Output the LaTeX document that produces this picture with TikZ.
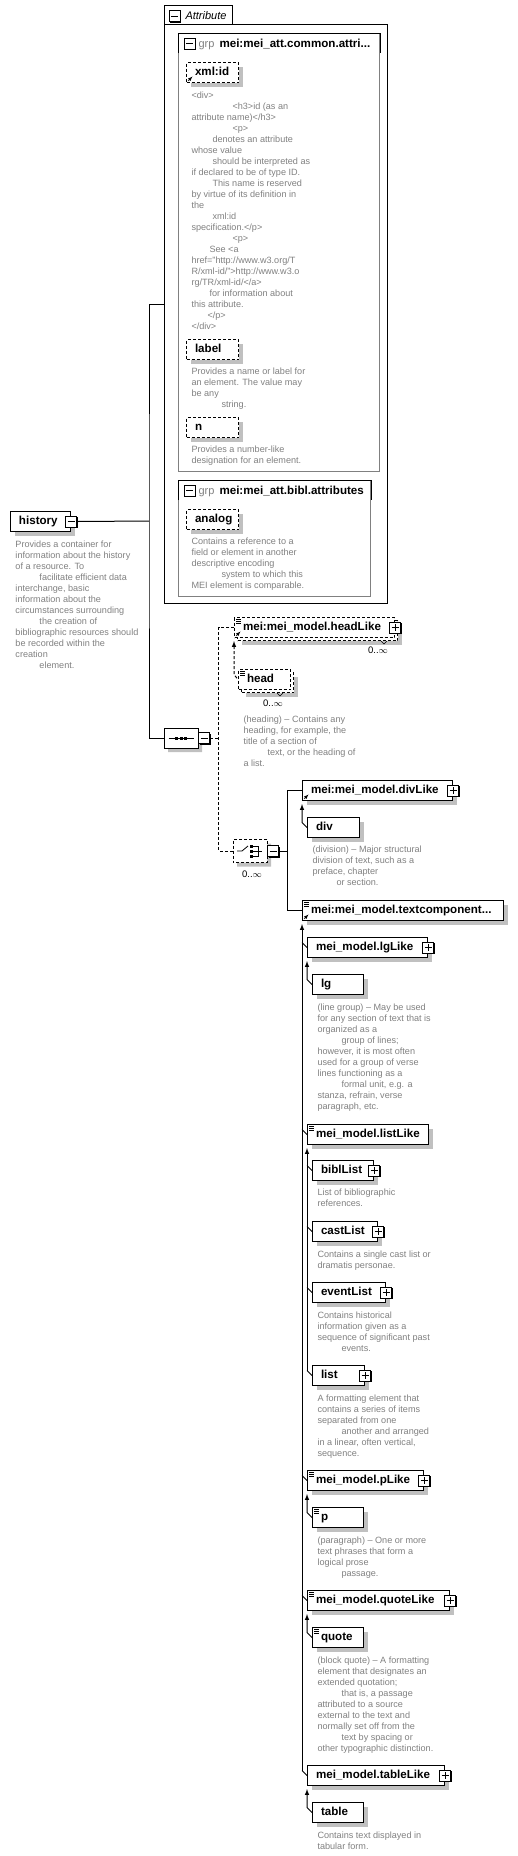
\documentclass[tikz,border=0pt]{standalone}
\usepackage{fontspec}
\setmainfont{Liberation Sans}
\usepackage{xcolor}
\usetikzlibrary{arrows,shadows,calc,shapes.misc}

\definecolor{desc}{RGB}{128,128,128}
\definecolor{shade}{RGB}{192,192,192}
\definecolor{grpline}{RGB}{128,128,128}
\newcommand{\namefont}{\fontsize{11.6}{14}\selectfont\bfseries}
\newcommand{\descfont}{\fontsize{9.1}{11}\selectfont\color{desc}}

\tikzset{
  box/.style={draw, fill=white, anchor=north west, inner xsep=8.5pt, inner ysep=0pt,
    minimum height=20pt, text height=8.5pt, text depth=2.5pt, align=left, font=\namefont},
  shd/.style={general shadow={fill=shade, shadow xshift=4pt, shadow yshift=-4pt}},
  elem/.style={box, shd},
  dsh/.style={dash pattern=on 3pt off 2pt},
  attr/.style={elem, dsh},
  optbox/.style={box, dsh},
  desc/.style={anchor=north west, inner sep=0pt, align=left, font=\descfont},
  mult/.style={inner sep=0pt, font=\fontsize{9.5}{11}\selectfont},
  grp/.style={draw=grpline, anchor=north west, inner sep=0pt},
  btn/.style={draw, fill=white, line width=0.8pt, minimum size=11pt, inner sep=0pt,
    general shadow={fill=black, shadow xshift=1pt, shadow yshift=-1pt}},
  minusbtn/.style={btn, path picture={
    \draw[line width=0.9pt] ($(path picture bounding box.west)+(2,0)$) -- ($(path picture bounding box.east)+(-2,0)$);}},
  plusbtn/.style={btn, path picture={
    \draw[line width=0.9pt] ($(path picture bounding box.west)+(2,0)$) -- ($(path picture bounding box.east)+(-2,0)$)
      ($(path picture bounding box.north)+(0,2)$) -- ($(path picture bounding box.south)+(0,-2)$);}},
  seqsym/.style={chamfered rectangle, chamfered rectangle xsep=5pt, draw, fill=white,
    minimum width=34pt, minimum height=20pt, inner sep=0pt, shd},
}

\begin{document}
\begin{tikzpicture}[x=1pt,y=-1pt,line width=1pt]
\useasboundingbox (0,0) rectangle (518,1856);

% attribute frame
\node[draw, anchor=north west, minimum width=223pt, minimum height=579pt, inner sep=0pt] (attr) at (164,24) {};
\draw (attr.north west) -- (164,5) -- (232,5) -- (232,24);
\node[minusbtn] (attr-b) at (174.5,16) {};
\node[anchor=base west, inner sep=0pt, font=\fontsize{11}{13}\selectfont\itshape] (attr-t) at (185,19.5) {Attribute};

\node[grp, minimum width=201pt, minimum height=438pt] (g1) at (178,33) {};
\draw ([yshift=-20pt]g1.north west) |- (g1.north east) -- ([yshift=-20pt]g1.north east);
\node[minusbtn] (g1-b) at (189.5,43.5) {};
\node[anchor=base west, inner sep=0pt, font=\fontsize{11}{13}\selectfont\color{desc}] (g1-k) at (198,47.5) {grp};
\node[anchor=base west, inner sep=0pt, font=\namefont] (g1-t) at (219,47.5) {mei:mei\_att.common.attri...};

\node[attr, text width=35pt] (xid) at (186,62) {xml:id};
\node[desc] (xid-d) at (191,91.5) {<div>\\
\hspace*{41pt}<h3>id (as an\\
attribute name)</h3>\\
\hspace*{41pt}<p>\\
\hspace*{21pt}denotes an attribute\\
whose value\\
\hspace*{21pt}should be interpreted as\\
if declared to be of type ID.\\
\hspace*{21pt}This name is reserved\\
by virtue of its definition in\\
the\\
\hspace*{21pt}xml:id\\
specification.</p>\\
\hspace*{41pt}<p>\\
\hspace*{18pt}See <a\\
href="http://www.w3.org/T\\
R/xml-id/">http://www.w3.o\\
rg/TR/xml-id/</a>\\
\hspace*{18pt}for information about\\
this attribute.\\
\hspace*{16pt}</p>\\
</div>};

\node[attr, text width=35pt] (lab) at (186,339) {label};
\node[desc] (lab-d) at (191,367.5) {Provides a name or label for\\
an element. The value may\\
be any\\
\hspace*{30pt}string.};

\node[attr, text width=35pt] (nn) at (186,417) {n};
\node[desc] (nn-d) at (191,445.5) {Provides a number-like\\
designation for an element.};

\node[grp, minimum width=192pt, minimum height=116pt] (g2) at (178,480) {};
\draw ([yshift=-20pt]g2.north west) |- (g2.north east) -- ([yshift=-20pt]g2.north east);
\node[minusbtn] (g2-b) at (189.5,490.5) {};
\node[anchor=base west, inner sep=0pt, font=\fontsize{11}{13}\selectfont\color{desc}] (g2-k) at (198,494.5) {grp};
\node[anchor=base west, inner sep=0pt, font=\namefont] (g2-t) at (219,494.5) {mei:mei\_att.bibl.attributes};

\node[attr, text width=35pt] (ana) at (186,509) {analog};
\node[desc] (ana-d) at (191,537.5) {Contains a reference to a\\
field or element in another\\
descriptive encoding\\
\hspace*{30pt}system to which this\\
MEI element is comparable.};

% root
\node[elem, text width=43pt] (hist) at (10,511) {history};
\node[minusbtn] (hist-b) at (hist.east) {};
\node[desc] (hist-d) at (15,540.5) {Provides a container for\\
information about the history\\
of a resource. To\\
\hspace*{24pt}facilitate efficient data\\
interchange, basic\\
information about the\\
circumstances surrounding\\
\hspace*{24pt}the creation of\\
bibliographic resources should\\
be recorded within the\\
creation\\
\hspace*{24pt}element.};

% sequence
\node[seqsym] (seq) at (181,738) {};
\node[minusbtn] (seq-b) at ($(seq.east)+(5.5,0)$) {};
\draw ($(seq.west)+(5,0)$) -- ($(seq.east)+(-5,0)$);
\foreach \dx in {-4.5,0,4.5}
  \fill ($(seq.center)+(\dx-1.5,-1.5)$) rectangle ++(3,3);

\coordinate (fork) at (149,521);
\draw (hist-b.east) -- (fork);
\draw ([yshift=9.5pt]attr.west) -| (fork) |- (seq.west);

% headLike
\node[attr, text width=143pt] (hl-bk) at (237,620) {};
\node[optbox, text width=143pt] (hl) at (234,617) {mei:mei\_model.headLike};
\node[mult] (hl-m) at (378,650) {0..$\infty$};
\draw[line width=0.6pt] ($(hl-bk.south east)+(-17,0)$) -- ++(3,3) -- ++(3,-3);

\node[attr, text width=35pt] (hd-bk) at (241,672) {};
\node[optbox, text width=35pt] (hd) at (238,669) {head};
\node[mult] (hd-m) at (273,703) {0..$\infty$};
\draw[line width=0.6pt] ($(hd-bk.south east)+(-17,0)$) -- ++(3,3) -- ++(3,-3);
\draw[latex-, dsh] ([yshift=-3pt]hl.south west) -- ($(hl.south west |- hd.west)+(0,-5)$) -- (hd.west);
\node[desc] (hd-d) at (243,715.5) {(heading) -- Contains any\\
heading, for example, the\\
title of a section of\\
\hspace*{24pt}text, or the heading of\\
a list.};

% choice
\node[seqsym, dsh, minimum height=23pt] (ch) at (250,851) {};
\node[minusbtn] (ch-b) at ($(ch.east)+(5.5,0)$) {};
\node[mult] (ch-m) at (252,874) {0..$\infty$};
\draw[line width=0.8pt] ($(ch.center)+(-13,0)$) -- ($(ch.center)+(-8,0)$) -- ($(ch.center)+(-2,-5)$);
\foreach \dy in {-5,0,5}
  \fill ($(ch.center)+(0,\dy-1.5)$) rectangle ++(3,3);
\draw[line width=0.8pt] ($(ch.center)+(3,-5)$) -- ++(5,0) -- ++(0,10) -- ++(-5,0);
\draw[line width=0.8pt] ($(ch.center)+(3,0)$) -- ++(9,0);

\coordinate (sq) at ($(seq-b.east)+(9,0)$);
\draw[dsh] (seq-b.east) -- (sq);
\draw[dsh] (hl.west) -| (sq) |- (ch.west);

% divLike
\node[elem, text width=133pt] (dl) at (302,780) {mei:mei\_model.divLike};
\node[elem, text width=35pt] (dv) at (307,817) {div};
\draw[latex-] ([yshift=-3pt]dl.south west) -- ($(dl.south west |- dv.west)+(0,-5)$) -- (dv.west);
\node[desc] (dv-d) at (312,845.5) {(division) -- Major structural\\
division of text, such as a\\
preface, chapter\\
\hspace*{24pt}or section.};

% textcomponent
\node[elem, text width=184pt] (tc) at (302,900) {mei:mei\_model.textcomponent...};

\coordinate (cq) at ($(ch-b.east)+(9,0)$);
\draw (ch-b.east) -- (cq);
\draw (dl.west) -| (cq) |- (tc.west);

\node[elem, text width=103pt] (lgl) at (307,937) {mei\_model.lgLike};
\node[elem, text width=34pt] (lg) at (312,974) {lg};
\draw[latex-] ([yshift=-3pt]lgl.south west) -- ($(lgl.south west |- lg.west)+(0,-5)$) -- (lg.west);
\node[desc] (lg-d) at (317,1003.5) {(line group) -- May be used\\
for any section of text that is\\
organized as a\\
\hspace*{24pt}group of lines;\\
however, it is most often\\
used for a group of verse\\
lines functioning as a\\
\hspace*{24pt}formal unit, e.g. a\\
stanza, refrain, verse\\
paragraph, etc.};

\node[elem, text width=104pt] (ll) at (307,1124) {mei\_model.listLike};
\node[elem, text width=44pt] (bl) at (312,1160) {biblList};
\node[desc] (bl-d) at (317,1188.5) {List of bibliographic\\
references.};
\node[elem, text width=48pt] (cl) at (312,1221) {castList};
\node[desc] (cl-d) at (317,1250.5) {Contains a single cast list or\\
dramatis personae.};
\node[elem, text width=56pt] (el) at (312,1282) {eventList};
\node[desc] (el-d) at (317,1311.5) {Contains historical\\
information given as a\\
sequence of significant past\\
\hspace*{24pt}events.};
\node[elem, text width=35pt] (li) at (312,1365) {list};
\node[desc] (li-d) at (317,1394.5) {A formatting element that\\
contains a series of items\\
separated from one\\
\hspace*{24pt}another and arranged\\
in a linear, often vertical,\\
sequence.};
\draw[latex-] ([yshift=-3pt]ll.south west) -- ($(ll.south west |- li.west)+(0,-5)$);
\foreach \nm in {bl,cl,el,li}
  \draw ($(ll.south west |- \nm.west)+(0,-5)$) -- (\nm.west);

\node[elem, text width=99pt] (pl) at (307,1470) {mei\_model.pLike};
\node[elem, text width=34pt] (pp) at (312,1507) {p};
\draw[latex-] ([yshift=-3pt]pl.south west) -- ($(pl.south west |- pp.west)+(0,-5)$) -- (pp.west);
\node[desc] (pp-d) at (317,1536.5) {(paragraph) -- One or more\\
text phrases that form a\\
logical prose\\
\hspace*{24pt}passage.};

\node[elem, text width=125pt] (ql) at (307,1590) {mei\_model.quoteLike};
\node[elem, text width=34pt] (qu) at (312,1627) {quote};
\draw[latex-] ([yshift=-3pt]ql.south west) -- ($(ql.south west |- qu.west)+(0,-5)$) -- (qu.west);
\node[desc] (qu-d) at (317,1656.5) {(block quote) -- A formatting\\
element that designates an\\
extended quotation;\\
\hspace*{24pt}that is, a passage\\
attributed to a source\\
external to the text and\\
normally set off from the\\
\hspace*{24pt}text by spacing or\\
other typographic distinction.};

\node[elem, text width=120pt] (tl) at (307,1765) {mei\_model.tableLike};
\node[elem, text width=34pt] (tb) at (312,1802) {table};
\draw[latex-] ([yshift=-3pt]tl.south west) -- ($(tl.south west |- tb.west)+(0,-5)$) -- (tb.west);
\node[desc] (tb-d) at (317,1831.5) {Contains text displayed in\\
tabular form.};

\draw[latex-] ([yshift=-3pt]tc.south west) -- ($(tc.south west |- tl.west)+(0,-5)$);
\foreach \nm in {lgl,ll,pl,ql,tl}
  \draw ($(tc.south west |- \nm.west)+(0,-5)$) -- (\nm.west);

% buttons and marks
\foreach \nm in {hl,dl,lgl,bl,cl,el,li,pl,ql,tl}
  \node[plusbtn] (\nm-p) at (\nm.east) {};
\foreach \nm in {hl,hd,tc,ll,pl,pp,ql,qu}
  \foreach \k in {2.5,4.5,6.5}
    \draw[line width=0.6pt] ($(\nm.north west)+(2,\k)$) -- ++(5,0);
\foreach \nm in {xid,hl,dl,tc}
  \draw[-latex, line width=0.6pt] ($(\nm.south west)+(2,-2)$) -- ++(4.5,-4.5);
\end{tikzpicture}
\end{document}
